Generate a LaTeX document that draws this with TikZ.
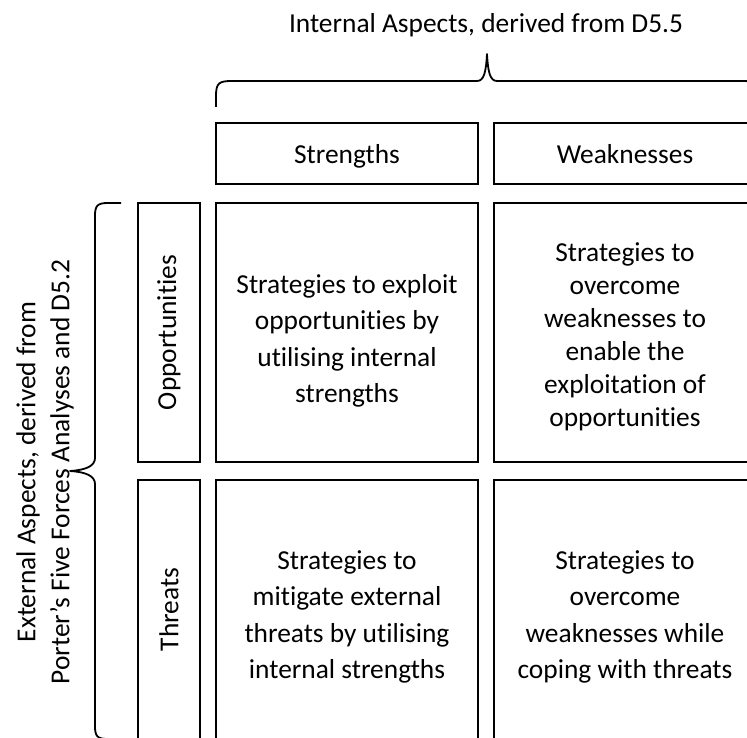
\documentclass[tikz,border=0pt]{standalone}
\usepackage{fontspec}
\setmainfont{Carlito}[Ligatures=NoCommon]
\begin{document}
\begin{tikzpicture}[x=1pt,y=-1pt,
  box/.style={draw=black,line width=2.7pt,inner sep=0pt,outer sep=0pt},
  hdr/.style={box,minimum width=262pt,minimum height=61pt,text height=27pt,text depth=6pt},
  side/.style={box,minimum width=62pt,minimum height=259pt},
  cell/.style={box,minimum width=262pt,minimum height=259pt},
  txt/.style={font=\fontsize{27.4}{36.5}\selectfont},
  dense/.style={font=\fontsize{27.4}{33}\selectfont},
  brace/.style={draw=black,line width=1.8pt,line join=round}]
\clip (0,0) rectangle (747,738);
\fill[white] (0,0) rectangle (747,738);

% column headings
\node[txt,anchor=base] (internal) at (486,33) {Internal Aspects, derived from D5.5};
\node[hdr,txt] (strengths) at (347,153.5) {Strengths};
\node[hdr,txt] (weaknesses) at (625,153.5) {Weaknesses};

% row headings
\node[side] (opp) at (169,332.5) {};
\node[txt,rotate=90] (opplabel) at (opp.center) {Opportunities};
\node[side] (thr) at (169,609.5) {};
\node[txt,rotate=90] (thrlabel) at (thr.center) {Threats};

% strategy cells
\node[cell] (so) at (347,332.5) {};
\node[cell] (wo) at (625,332.5) {};
\node[cell] (st) at (347,609.5) {};
\node[cell] (wt) at (625,609.5) {};
\node[txt,align=center] (sotext) at (347,341)
  {Strategies to exploit\\opportunities by\\utilising internal\\strengths};
\node[dense,align=center] (wotext) at (625,337)
  {Strategies to\\overcome\\weaknesses to\\enable the\\exploitation of\\opportunities};
\node[txt,align=center] (sttext) at (347,617)
  {Strategies to\\mitigate external\\threats by utilising\\internal strengths};
\node[txt,align=center] (wttext) at (625,617)
  {Strategies to\\overcome\\weaknesses while\\coping with threats};

% brace over the internal aspects
\coordinate (tl) at (216,107);
\coordinate (ttip) at (487,54);
\coordinate (tr) at (758,107);
\draw[brace] (tl) -- (216,96) .. controls (216,83) and (219,81) .. (232,81)
  -- (477,81) .. controls (484,81) and (486,72) .. (ttip)
  .. controls (488,72) and (490,81) .. (497,81)
  -- (742,81) .. controls (755,81) and (758,83) .. (758,96) -- (tr);

% brace beside the external aspects
\coordinate (lt) at (121,203);
\coordinate (ltip) at (70,471);
\coordinate (lb) at (121,739);
\draw[brace] (lt) -- (108,203) .. controls (97,203) and (95,206) .. (95,216)
  -- (95,458) .. controls (95,466) and (86,470) .. (ltip)
  .. controls (86,472) and (95,476) .. (95,484)
  -- (95,726) .. controls (95,736) and (97,739) .. (108,739) -- (lb);

\node[rotate=90,align=center,font=\fontsize{27.4}{34}\selectfont] (external) at (45,472)
  {External Aspects, derived from\\Porter’s Five Forces Analyses and D5.2};
\end{tikzpicture}
\end{document}
